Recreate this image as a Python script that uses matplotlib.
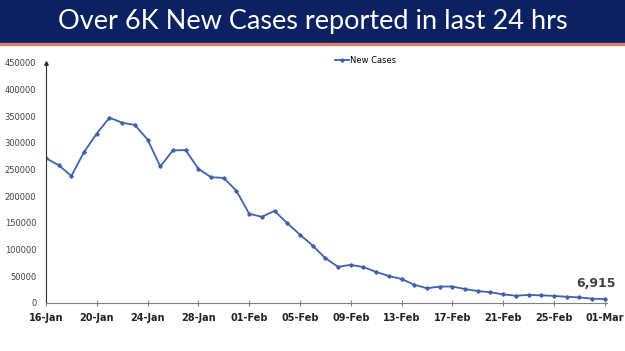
import numpy as np
import pandas as pd
import matplotlib
matplotlib.use("Agg")
import matplotlib.pyplot as plt
from matplotlib.patches import Rectangle

# daily new cases, 16-Jan to 01-Mar
dates = pd.date_range("2022-01-16", "2022-03-01", freq="D")
new_cases = [271202, 258089, 238018, 282970, 317532, 347254, 337704, 333533,
             306064, 255874, 285914, 286384, 251209, 235532, 234281, 209918,
             167059, 161386, 172433, 149394, 127952, 107474, 83876, 67597,
             71365, 67084, 58077, 50407, 44877, 34113, 27409, 30615, 30757,
             25920, 22270, 19968, 16051, 13405, 15102, 14148, 13166, 11499,
             10273, 8013, 6915]
yticks = np.arange(0, 450001, 50000)
title = "Over 6K New Cases reported in last 24 hrs"

fig = plt.figure(figsize=(6.25, 3.51), dpi=100)

# header banner
fig.patches.append(Rectangle((0, 0.878), 1, 0.122, transform=fig.transFigure,
                             color="#0b2161", zorder=0))
fig.patches.append(Rectangle((0, 0.872), 1, 0.006, transform=fig.transFigure,
                             color="#d9826a", zorder=0))
fig.text(0.5, 0.94, title, color="white", fontsize=19.5, family="Lato",
         ha="center", va="center")

ax = fig.add_axes([0.0736, 0.137, 0.897, 0.684])
x = np.arange(len(dates))
ax.plot(x, new_cases, color="#3f62aa", lw=1.3, marker="D", ms=1.8,
        label="New Cases")

ax.set_xlim(0, 44.15)
ax.set_ylim(0, 450000)
ax.set_yticks(yticks)
ax.set_yticklabels([str(v) for v in yticks], fontsize=6, color="#404040")
ax.set_xticks(x[::4])
ax.set_xticklabels([d.strftime("%d-%b") for d in dates[::4]], fontsize=7,
                   fontweight="bold", color="#222222")
ax.tick_params(axis="y", length=0, pad=7)
ax.tick_params(axis="x", direction="inout", length=4, color="#808080", pad=5)

for s in ["top", "right"]:
    ax.spines[s].set_visible(False)
ax.spines["left"].set_color("#303030")
ax.spines["bottom"].set_color("#808080")
ax.plot(0, 1, "^", color="#303030", ms=2.5, transform=ax.transAxes,
        clip_on=False)

ax.annotate("6,915", xy=(x[-1], new_cases[-1]), xytext=(x[-1] - 0.7, 36000),
            fontsize=9, fontweight="semibold", color="#404040", ha="center",
            va="center",
            arrowprops=dict(arrowstyle="-", color="#c8d4e8", lw=0.6))

ax.legend(loc="upper center", bbox_to_anchor=(0.57, 1.06), frameon=False,
          fontsize=6, handlelength=1.6, handletextpad=0.1)

fig.savefig("out.png", dpi=100)
